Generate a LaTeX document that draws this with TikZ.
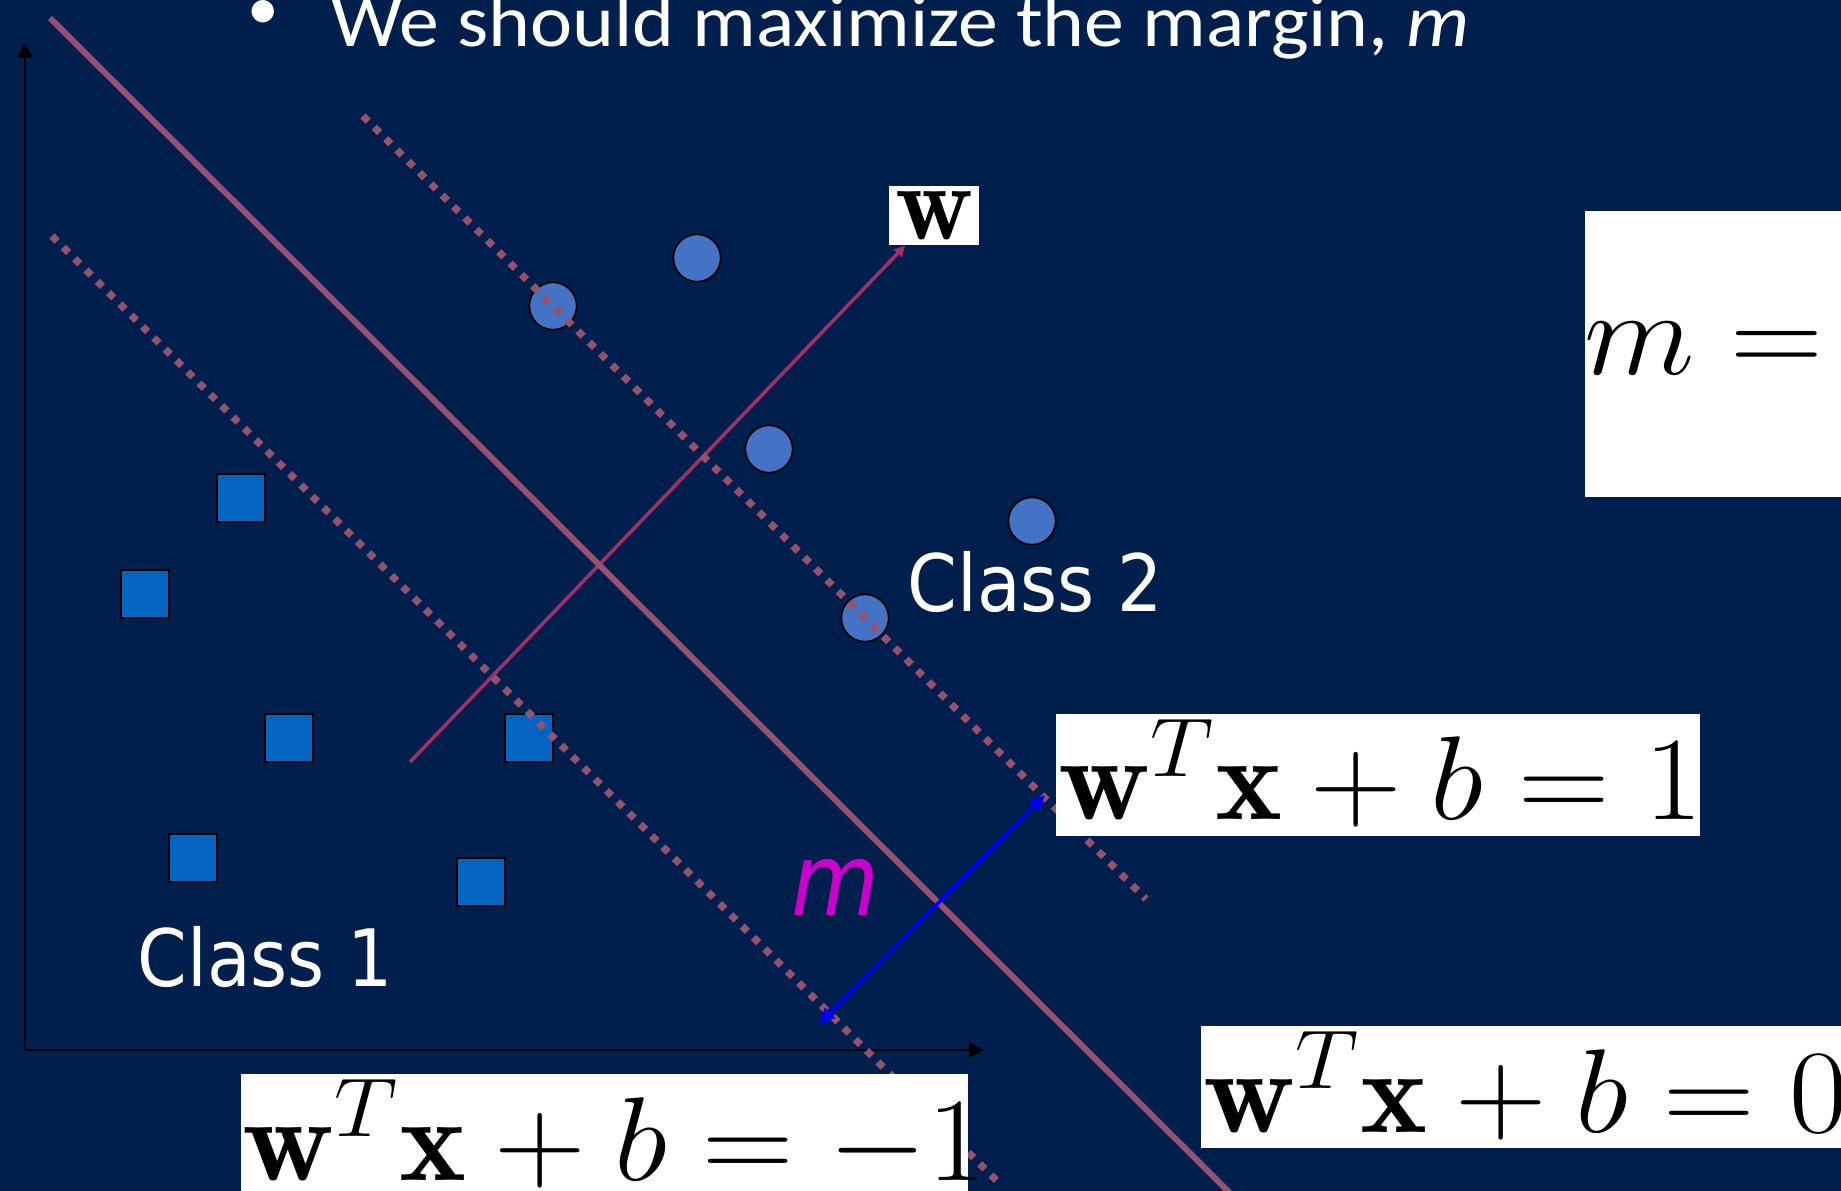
\RequirePackage{fix-cm}
\documentclass[tikz,border=0pt]{standalone}
\usepackage{fontspec}
\usepackage{graphicx}
\usetikzlibrary{arrows.meta}
\newfontfamily\slidefont{Carlito}
\newfontfamily\labelfont{DejaVu Sans Condensed}
\definecolor{mynavy}{RGB}{0, 31, 77}
\definecolor{mymauve}{RGB}{150, 80, 112}
\definecolor{mywine}{RGB}{160, 48, 104}
\definecolor{mysky}{RGB}{68, 114, 196}
\definecolor{myroyal}{RGB}{5, 99, 193}
\definecolor{mymagenta}{RGB}{204, 0, 204}
\def\eqsize{\fontsize{33.9}{40}\selectfont}
% slightly wider equation, as pasted on the slide
\newcommand{\wideeq}[1]{\scalebox{1.065}[1]{#1}}
\tikzset{
    axis/.style={black, line width=0.55pt, -{Triangle[length=4.2pt, width=4.3pt]}},
    hyperplane/.style={mymauve, line width=1.7pt},
    marginline/.style={mymauve, line width=2.1pt, dash pattern=on 2.1pt off 2.45pt},
    wvec/.style={mywine, line width=1pt, -{Triangle[length=3pt, width=3pt]}},
    marrow/.style={blue, line width=1pt, {Triangle[length=4.5pt, width=4pt]}-{Triangle[length=4.5pt, width=4pt]}},
    classone/.style={rectangle, draw=black, line width=0.5pt, fill=myroyal, minimum size=4.8mm, inner sep=0pt},
    classtwo/.style={circle, draw=black, line width=0.5pt, fill=mysky, minimum size=4.74mm, inner sep=0pt},
    classlabel/.style={white, font=\labelfont\fontsize{22.5}{27}\selectfont, inner sep=0pt, anchor=base west},
    eqtext/.style={black, font=\eqsize, inner sep=0pt, anchor=base west}
}

\begin{document}
\begin{tikzpicture}[x=0.01cm, y=-0.01cm]
    % whole slide area, one unit is one pixel of the slide
    \useasboundingbox (0, 0) rectangle (1841, 1191);
    \clip (0, 0) rectangle (1841, 1191);
    \fill[mynavy] (0, 0) rectangle (1841, 1191);

    % ----------------------------------------------------
    % Title bullet
    % ----------------------------------------------------
    \node[white, font=\slidefont\fontsize{18}{21}\selectfont, inner sep=0pt] (bullet) at (263, 15) {•};
    \node[white, font=\slidefont\fontsize{21}{25}\selectfont, inner sep=0pt, anchor=base west] (title) at (331, 47)
        {\scalebox{1.08}[1]{We should maximize the margin, \textit{m}}};

    % ----------------------------------------------------
    % Axes
    % ----------------------------------------------------
    \coordinate (origin) at (25, 1050);
    \coordinate (ytop) at (25, 43);
    \coordinate (xend) at (984, 1050);
    \draw[axis] (origin) -- (ytop);
    \draw[axis] (origin) -- (xend);

    % ----------------------------------------------------
    % Samples: squares are class 1, circles are class 2
    % ----------------------------------------------------
    \foreach \name/\px/\py in {s1/241/498, s2/145/594, s3/289/738, s4/529/738, s5/193/858, s6/481/882}
        \node[classone] (\name) at (\px, \py) {};
    \foreach \name/\px/\py in {c1/553/306, c2/697/258, c3/769/449, c4/865/618, c5/1032/521}
        \node[classtwo] (\name) at (\px, \py) {};

    % Normal vector w
    \node[fill=white, inner sep=0pt, minimum width=9mm, minimum height=5.9mm, font=\fontsize{30.7}{36}\selectfont] (wlab) at (934, 215.5) {$\mathbf{w}$};
    \coordinate (wfoot) at (410, 762);
    \draw[wvec] (wfoot) -- (wlab);

    % Margin lines and the separating line
    \draw[marginline] (52, 236) -- (1000, 1184);
    \draw[marginline] (363, 116) -- (1146, 899);
    \draw[hyperplane] (50, 18) -- (1237, 1200);

    % Margin width m
    \coordinate (mlo) at (819, 1024);
    \coordinate (mhi) at (1045, 795);
    \draw[marrow] (mlo) -- (mhi);
    \node[mymagenta, font=\labelfont\itshape\fontsize{28.5}{34}\selectfont, inner sep=0pt, anchor=base west] (mlab) at (791, 915) {m};

    \node[classlabel] (cls2) at (907, 611.7) {Class 2};
    \node[classlabel] (cls1) at (137, 986.7) {Class 1};

    % ----------------------------------------------------
    % Equation boxes
    % ----------------------------------------------------
    \fill[white] (1056, 714) rectangle (1700, 836);
    \node[eqtext] (eqplus) at (1058, 820) {\wideeq{$\mathbf{w}^T\mathbf{x}+b=1$}};
    \fill[white] (1201, 1026) rectangle (1841, 1148);
    \node[eqtext] (eqzero) at (1203, 1132) {\wideeq{$\mathbf{w}^T\mathbf{x}+b=0$}};
    \fill[white] (241, 1074) rectangle (968, 1191);
    \node[eqtext] (eqminus) at (242, 1180) {\wideeq{$\mathbf{w}^T\mathbf{x}+b=-1$}};
    \fill[white] (1585, 211) rectangle (1841, 497);
    \node[eqtext, font=\fontsize{34.4}{41}\selectfont] (mformula) at (1584, 375) {\wideeq{$m =$}};

\end{tikzpicture}
\end{document}
